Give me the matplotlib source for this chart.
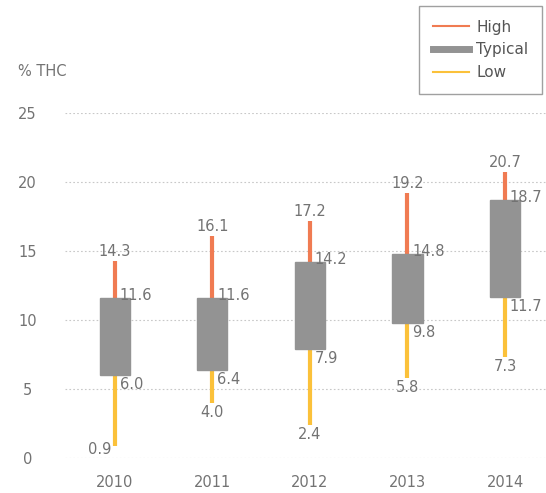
import matplotlib.pyplot as plt
from matplotlib.lines import Line2D

years = ['2010', '2011', '2012', '2013', '2014']
high = [14.3, 16.1, 17.2, 19.2, 20.7]
typ_top = [11.6, 11.6, 14.2, 14.8, 18.7]
typ_bot = [6.0, 6.4, 7.9, 9.8, 11.7]
low = [0.9, 4.0, 2.4, 5.8, 7.3]

c_high = '#f07b52'
c_low = '#fbc13a'
c_box = '#939393'
c_text = '#737373'

plt.rcParams['font.family'] = ['DejaVu Sans']
fs = 10.5

fig = plt.figure(figsize=(5.46, 4.93), dpi=100)
ax = fig.add_axes([65 / 546, 35 / 493, 481 / 546, 345 / 493])
x = list(range(len(years)))

# whiskers: high above the box, low below
for i in x:
    ax.plot([i, i], [typ_top[i], high[i]], color=c_high, lw=3, solid_capstyle='butt', zorder=2)
    ax.plot([i, i], [low[i], typ_bot[i]], color=c_low, lw=3, solid_capstyle='butt', zorder=2)
ax.bar(x, [t - b for t, b in zip(typ_top, typ_bot)], bottom=typ_bot, width=0.31,
       color=c_box, edgecolor=c_box, linewidth=1, zorder=3)

# value labels
for i in x:
    ax.text(i, high[i] + 0.15, f'{high[i]:.1f}', ha='center', va='bottom', color=c_text, fontsize=fs)
    ax.text(i + 0.05, typ_top[i] + 0.15, f'{typ_top[i]:.1f}', ha='left', va='center', color=c_text, fontsize=fs)
    ax.text(i + 0.05, typ_bot[i] - 0.15, f'{typ_bot[i]:.1f}', ha='left', va='top', color=c_text, fontsize=fs)
    if i == 0:
        ax.text(i - 0.03, low[i] - 0.3, f'{low[i]:.1f}', ha='right', va='center', color=c_text, fontsize=fs)
    else:
        ax.text(i, low[i] - 0.15, f'{low[i]:.1f}', ha='center', va='top', color=c_text, fontsize=fs)

ax.set_xlim(-0.51, 4.42)
ax.set_ylim(0, 25)
ax.set_yticks([0, 5, 10, 15, 20, 25])
ax.set_xticks(x)
ax.set_xticklabels(years)
ax.tick_params(length=0, labelsize=fs, labelcolor=c_text)
ax.tick_params(axis='y', pad=27)
ax.tick_params(axis='x', pad=12)
for lbl in ax.get_yticklabels():
    lbl.set_horizontalalignment('center')
ax.grid(axis='y', linestyle=(0, (1.5, 2)), color='#c8c8c8', lw=0.8)
ax.set_axisbelow(True)
for s in ax.spines.values():
    s.set_visible(False)
for child in ax.get_children():
    if hasattr(child, 'set_clip_on'):
        child.set_clip_on(False)

fig.text(18 / 546, 1 - 72 / 493, '% THC', color=c_text, fontsize=10.5, va='center')

handles = [Line2D([], [], color=c_high, lw=1.5),
           Line2D([], [], color=c_box, lw=5),
           Line2D([], [], color=c_low, lw=1.5)]
leg = fig.legend(handles, ['High', 'Typical', 'Low'], loc='upper left',
                 bbox_to_anchor=(419 / 546, 1 - 6 / 493), borderaxespad=0,
                 frameon=True, fancybox=False,
                 fontsize=11, handlelength=2.4, labelspacing=0.5,
                 borderpad=0.9, handletextpad=0.45, labelcolor='#555555')
leg.get_frame().set_edgecolor('#888888')
leg.get_frame().set_linewidth(1)

fig.savefig('out.png', dpi=100)
